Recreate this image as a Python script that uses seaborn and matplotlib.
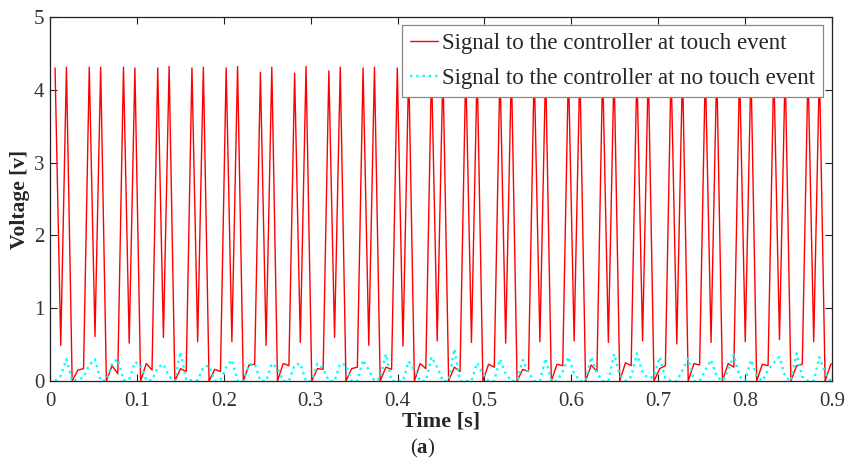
import numpy as np
import seaborn as sns
import matplotlib.pyplot as plt

# sampling grid of the scope trace
t_start = 0.0058
t_step = 0.006565
n_samples = 138

# red trace, one entry per period: peak, dip, peak, 0, low, low
peak_a = [4.30, 4.31, 4.31, 4.30, 4.30, 4.30, 4.24, 4.23, 4.26, 4.30, 4.30, 4.30,
          4.30, 4.30, 4.30, 4.30, 4.30, 4.30, 4.30, 4.30, 4.30, 4.30, 4.30]
dip = [0.49, 0.61, 0.52, 0.60, 0.54, 0.54, 0.49, 0.53, 0.60, 0.49, 0.48, 0.55,
       0.53, 0.52, 0.54, 0.55, 0.53, 0.55, 0.51, 0.53, 0.54, 0.57, 0.54]
peak_b = [4.31, 4.31, 4.30, 4.32, 4.31, 4.32, 4.31, 4.32, 4.31, 4.31, 4.32, 4.30,
          4.31, 4.31, 4.31, 4.31, 4.31, 4.31, 4.31, 4.31, 4.31, 4.31, 4.31]
floor = [0.0] * 23
low_a = [0.15, 0.21, 0.24, 0.17, 0.16, 0.22, 0.24, 0.17, 0.17, 0.19, 0.24, 0.19,
         0.23, 0.16, 0.23, 0.22, 0.25, 0.17, 0.24, 0.24, 0.23, 0.21, 0.23]
low_b = [0.17, 0.10, 0.15, 0.13, 0.13, 0.23, 0.21, 0.16, 0.19, 0.16, 0.17, 0.13,
         0.19, 0.13, 0.21, 0.13, 0.21, 0.21, 0.22, 0.19, 0.21, 0.23, 0.25]

# cyan trace (no touch)
no_touch = [0.00, 0.07, 0.30, 0.00, 0.02, 0.05, 0.22, 0.30, 0.00, 0.01,
            0.24, 0.30, 0.01, 0.02, 0.26, 0.22, 0.01, 0.01, 0.19, 0.23,
            0.06, 0.00, 0.40, 0.01, 0.01, 0.01, 0.19, 0.21, 0.00, 0.02,
            0.19, 0.29, 0.00, 0.00, 0.22, 0.24, 0.00, 0.00, 0.24, 0.18,
            0.00, 0.00, 0.22, 0.24, 0.00, 0.00,
            0.24, 0.17, 0.00, 0.00, 0.24, 0.22, 0.00, 0.00, 0.29, 0.15,
            0.00, 0.04, 0.37, 0.00, 0.00, 0.00, 0.27, 0.15, 0.00, 0.00,
            0.33, 0.19, 0.00, 0.00, 0.44, 0.00, 0.00, 0.00, 0.25, 0.10,
            0.00, 0.00, 0.30, 0.10, 0.00, 0.00, 0.29, 0.11, 0.00, 0.00,
            0.31, 0.00, 0.00,
            0.13, 0.33, 0.11, 0.00, 0.00, 0.33, 0.11, 0.00, 0.00, 0.37,
            0.08, 0.00, 0.06, 0.38, 0.11, 0.04, 0.06, 0.33, 0.04, 0.00,
            0.00, 0.15, 0.31, 0.00, 0.00, 0.15, 0.29, 0.06, 0.00, 0.15,
            0.36, 0.06, 0.00, 0.29, 0.06, 0.00, 0.15, 0.25, 0.33, 0.06,
            0.00, 0.38, 0.06, 0.00, 0.00, 0.33, 0.11, 0.00, 0.06]

t = t_start + t_step * np.arange(n_samples)
touch = np.column_stack([peak_a, dip, peak_b, floor, low_a, low_b]).ravel()

sns.set_style("ticks")
plt.rcParams['font.family'] = ['Liberation Serif', 'DejaVu Serif']
plt.rcParams['mathtext.fontset'] = 'custom'
plt.rcParams['mathtext.rm'] = 'Liberation Serif'
plt.rcParams['mathtext.bf'] = 'Liberation Serif:bold'

fig = plt.figure(figsize=(8.46, 4.68), dpi=100)
ax = fig.add_axes([50 / 846, 87 / 468, 782 / 846, 364 / 468])

sns.lineplot(x=t, y=touch, color='red', lw=1.0, ax=ax,
             label='Signal to the controller at touch event')
sns.lineplot(x=t, y=no_touch, color='cyan', lw=1.7, linestyle=':', ax=ax,
             label='Signal to the controller at no touch event')

ax.set_xlim(0, 0.9)
ax.set_ylim(0, 5)
ax.set_xticks(np.arange(0, 0.91, 0.1))
ax.set_xticklabels(['0', '0.1', '0.2', '0.3', '0.4', '0.5', '0.6', '0.7', '0.8', '0.9'])
ax.set_yticks(range(6))
ax.tick_params(direction='in', top=True, right=True, length=5, width=0.8,
               labelsize=15, colors='#222222', labelcolor='#333333')
ax.tick_params(axis='x', pad=8)
ax.tick_params(axis='y', pad=4)
for s in ax.spines.values():
    s.set_visible(True)
    s.set_linewidth(0.9)
    s.set_color('#222222')

ax.set_xlabel('Time [s]', fontsize=16, fontweight='bold', labelpad=0)
ax.set_ylabel('Voltage [v]', fontsize=15.5, fontweight='bold', labelpad=3)

leg = ax.legend(loc='upper right', fontsize=16.5, frameon=True, fancybox=False,
                framealpha=1, edgecolor='#888888', handlelength=1.2,
                handletextpad=0.2, borderpad=0.35, labelspacing=0.6,
                borderaxespad=0.0, bbox_to_anchor=(0.989, 0.978))
leg.get_frame().set_linewidth(0.9)

fig.text(0.5, 0.03, r'($\mathbf{a}$)', ha='center', fontsize=15)

fig.savefig('out.png', dpi=100)
